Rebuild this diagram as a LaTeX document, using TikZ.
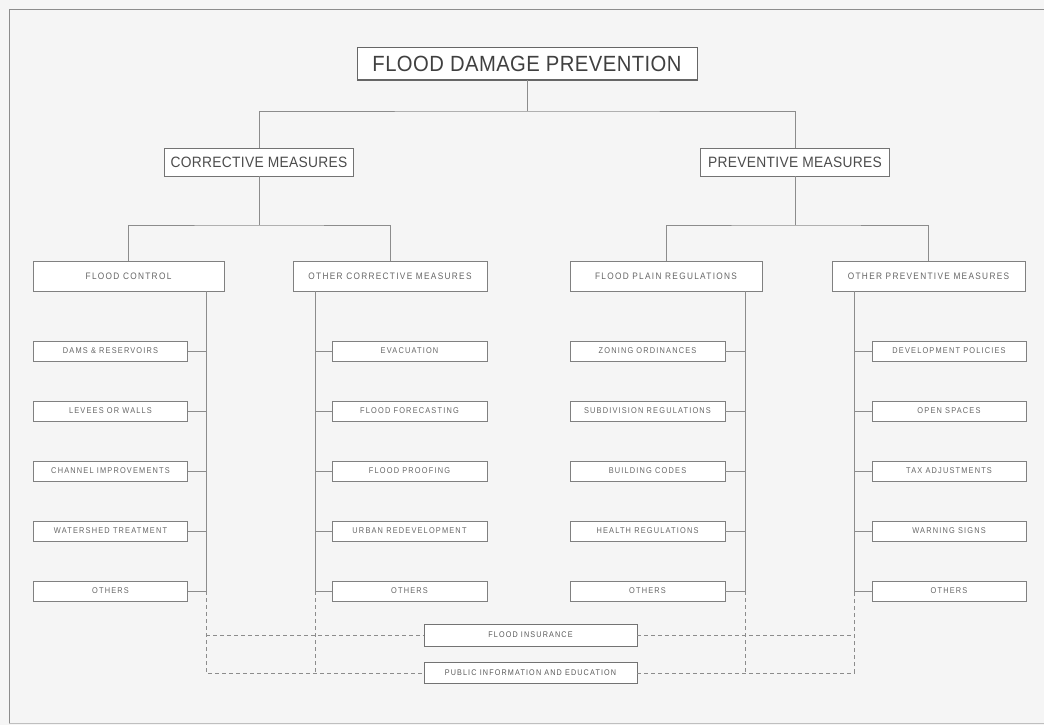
\documentclass[tikz,border=0pt]{standalone}
\usepackage{fontspec}
\setmainfont{Liberation Sans}
\newfontfamily\titlefont[LetterSpace=2,FakeStretch=0.92]{Liberation Sans}
\newfontfamily\labfont[LetterSpace=14,FakeStretch=0.88]{Liberation Sans}
\begin{document}
\begin{tikzpicture}[x=1pt,y=-1pt,
  line width=0.8pt,
  every node/.style={inner sep=0pt, outer sep=0pt},
  ln/.style={draw=black!45},
  dl/.style={draw=black!45, dashed, dash pattern=on 4pt off 3pt},
  tbox/.style={draw=black!60, line width=1pt, fill=white, minimum width=340pt, minimum height=32pt, text=black!75, font=\titlefont\fontsize{22}{22}\selectfont},
  mbox/.style={draw=black!55, fill=white, minimum width=189pt, minimum height=28pt, text=black!70, font=\titlefont\fontsize{15}{15}\selectfont},
  sbox/.style={draw=black!50, fill=white, minimum width=191pt, minimum height=30pt, text=black!60, font=\labfont\fontsize{9.4}{10}\selectfont},
  leaf/.style={draw=black!50, fill=white, minimum width=154pt, minimum height=20pt, text=black!60, font=\labfont\fontsize{8.4}{9}\selectfont},
  bbox/.style={draw=black!55, fill=white, minimum width=213pt, minimum height=21pt, text=black!65, font=\labfont\fontsize{8.2}{9}\selectfont}
]
\useasboundingbox (0,0) rectangle (1044,725);
\fill[white!96!black] (0,0) rectangle (1044,725);
% frame
\draw[draw=black!45, line width=0.9pt] (9,723) -- (9,9) -- (1048,9);
\draw[draw=black!25, line width=0.7pt] (9,723) -- (1048,723);

% nodes
\node[tbox] (T) at (527,64) {FLOOD DAMAGE PREVENTION};
\node[mbox] (CM) at (259,162) {CORRECTIVE MEASURES};
\node[mbox] (PM) at (795,162) {PREVENTIVE MEASURES};

\node[sbox] (FC) at (128.5,276) {FLOOD CONTROL};
\node[sbox, minimum width=194pt] (OC) at (390,276) {OTHER CORRECTIVE MEASURES};
\node[sbox, minimum width=192pt] (FP) at (666,276) {FLOOD PLAIN REGULATIONS};
\node[sbox, minimum width=193pt] (OP) at (928.5,276) {OTHER PREVENTIVE MEASURES};

\foreach \n/\t [count=\i] in {a1/DAMS \& RESERVOIRS, a2/LEVEES OR WALLS, a3/CHANNEL IMPROVEMENTS, a4/WATERSHED TREATMENT, a5/OTHERS}
  \node[leaf] (\n) at (110.5,{351+60*(\i-1)}) {\t};
\foreach \n/\t [count=\i] in {b1/EVACUATION, b2/FLOOD FORECASTING, b3/FLOOD PROOFING, b4/URBAN REDEVELOPMENT, b5/OTHERS}
  \node[leaf, minimum width=155pt] (\n) at (409.5,{351+60*(\i-1)}) {\t};
\foreach \n/\t [count=\i] in {c1/ZONING ORDINANCES, c2/SUBDIVISION REGULATIONS, c3/BUILDING CODES, c4/HEALTH REGULATIONS, c5/OTHERS}
  \node[leaf, minimum width=155pt] (\n) at (647.5,{351+60*(\i-1)}) {\t};
\foreach \n/\t [count=\i] in {d1/DEVELOPMENT POLICIES, d2/OPEN SPACES, d3/TAX ADJUSTMENTS, d4/WARNING SIGNS, d5/OTHERS}
  \node[leaf] (\n) at (949,{351+60*(\i-1)}) {\t};

\node[bbox, minimum height=22pt] (FI) at (530.5,635) {FLOOD INSURANCE};
\node[bbox] (PI) at (530.5,673) {PUBLIC INFORMATION AND EDUCATION};

% junctions
\coordinate (j0) at (527,111);
\coordinate (j1) at (259,225);
\coordinate (j2) at (795,225);
\coordinate (s1) at (206,291);
\coordinate (s2) at (315,291);
\coordinate (s3) at (745,291);
\coordinate (s4) at (854,291);
\coordinate (e1) at (206,591);
\coordinate (e2) at (315,591);
\coordinate (e3) at (745,591);
\coordinate (e4) at (854,591);
\coordinate (f1) at (206,673);
\coordinate (f2) at (315,673);
\coordinate (f3) at (745,673);
\coordinate (f4) at (854,673);
\coordinate (g1) at (206,635);
\coordinate (g4) at (854,635);

% tree connectors
\draw[ln] (T.south) -- (j0);
\draw[ln] (CM.north) |- (j0) -| (PM.north);
\draw[ln] (CM.south) -- (j1);
\draw[ln] (PM.south) -- (j2);
\draw[ln] (FC.north) |- (j1) -| (OC.north);
\draw[ln] (FP.north) |- (j2) -| (OP.north);

% spines
\draw[ln] (s1) -- (e1);
\draw[ln] (s2) -- (e2);
\draw[ln] (s3) -- (e3);
\draw[ln] (s4) -- (e4);
\foreach \k in {1,...,5} {
  \draw[ln] (a\k.east) -- (a\k.east -| s1);
  \draw[ln] (b\k.west) -- (b\k.west -| s2);
  \draw[ln] (c\k.east) -- (c\k.east -| s3);
  \draw[ln] (d\k.west) -- (d\k.west -| s4);
}

% dashed links
\draw[dl] (e1) -- (f1) -- (PI.west);
\draw[dl] (e2) -- (f2);
\draw[dl] (e3) -- (f3);
\draw[dl] (PI.east) -- (f4) -- (e4);
\draw[dl] (g1) -- (FI.west);
\draw[dl] (FI.east) -- (g4);
\end{tikzpicture}
\end{document}
